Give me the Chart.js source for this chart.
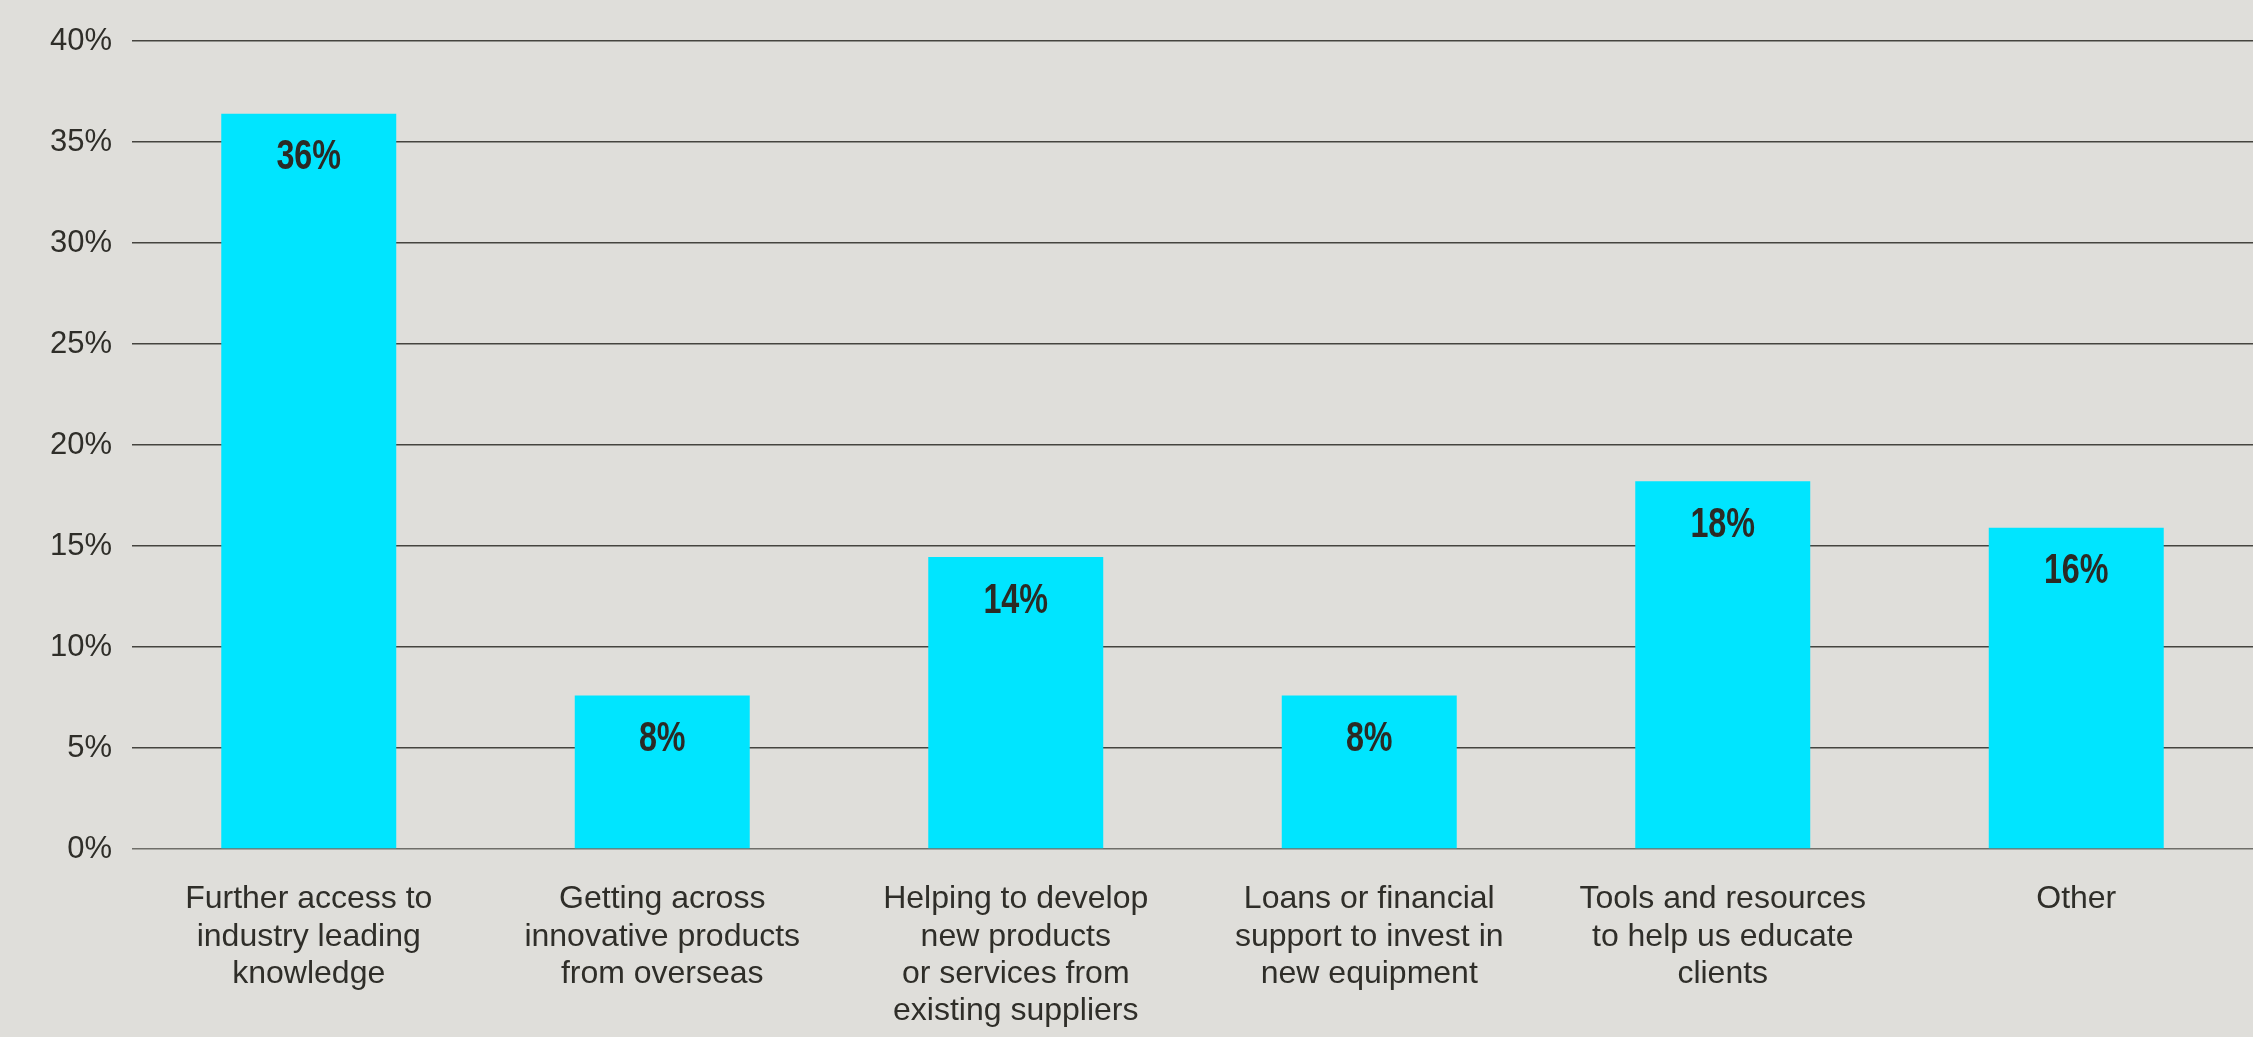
<!DOCTYPE html>
<html>
<head>
<meta charset="utf-8">
<script src="https://cdn.jsdelivr.net/npm/chart.js@4.4.1/dist/chart.umd.min.js"></script>
<style>
  html, body { margin: 0; padding: 0; background: #dfdeda; }
  #wrap { width: 2253px; height: 1037px; }
</style>
</head>
<body>
<div id="wrap"><canvas id="myChart" width="2253" height="1037"></canvas></div>
<script>
// datos del grafico
const categorias = [
  ["Further access to", "industry leading", "knowledge"],
  ["Getting across", "innovative products", "from overseas"],
  ["Helping to develop", "new products", "or services from", "existing suppliers"],
  ["Loans or financial", "support to invest in", "new equipment"],
  ["Tools and resources", "to help us educate", "clients"],
  ["Other"]
];
const valores = [36.4, 7.6, 14.45, 7.6, 18.2, 15.9];
const etiquetas = ["36%", "8%", "14%", "8%", "18%", "16%"];
const ticksY = [0, 5, 10, 15, 20, 25, 30, 35, 40];

// plugin para poner el porcentaje dentro de la barra (texto condensado)
const etiquetaBarras = {
  id: 'etiquetaBarras',
  afterDatasetsDraw(chart) {
    const ctx = chart.ctx;
    const meta = chart.getDatasetMeta(0);
    meta.data.forEach((bar, idx) => {
      ctx.save();
      ctx.fillStyle = '#2b2a25';
      ctx.font = 'bold 42px "Liberation Sans", Arial, sans-serif';
      ctx.textAlign = 'center';
      ctx.textBaseline = 'middle';
      ctx.translate(bar.x, bar.y + 44);
      ctx.scale(0.77, 1);
      ctx.fillText(etiquetas[idx], 0, 0);
      ctx.restore();
    });
  }
};

let graphTarget = document.getElementById("myChart");
let barGraph = new Chart(graphTarget, {
  type: 'bar',
  data: {
    labels: categorias,
    datasets: [{
      data: valores,
      backgroundColor: '#00e5ff',
      borderWidth: 0,
      barPercentage: 0.495,
      categoryPercentage: 1
    }]
  },
  options: {
    responsive: false,
    animation: false,
    layout: { padding: { top: 41, right: 0, bottom: 0, left: 0 } },
    plugins: {
      legend: { display: false },
      tooltip: { enabled: false }
    },
    scales: {
      x: {
        afterFit: function (scale) { scale.height = 188; },
        grid: { display: false },
        border: { display: false },
        ticks: {
          color: '#2f2e29',
          padding: 24,
          maxRotation: 0,
          autoSkip: false,
          font: { family: '"Liberation Sans", Arial, sans-serif', size: 32, lineHeight: 1.16 }
        }
      },
      y: {
        min: 0,
        max: 40,
        afterFit: function (scale) { scale.width = 132; },
        afterBuildTicks: function (scale) {
          scale.ticks = ticksY.map(v => ({ value: v }));
        },
        border: { display: false },
        grid: {
          drawTicks: false,
          lineWidth: 1.5,
          color: function (c) { return c.tick && c.tick.value === 0 ? '#6f6e69' : '#45443f'; }
        },
        ticks: {
          color: '#2f2e29',
          padding: 20,
          font: { family: '"Liberation Sans", Arial, sans-serif', size: 31 },
          callback: function (v) { return v + '%'; }
        }
      }
    }
  },
  plugins: [etiquetaBarras]
});
</script>
</body>
</html>
